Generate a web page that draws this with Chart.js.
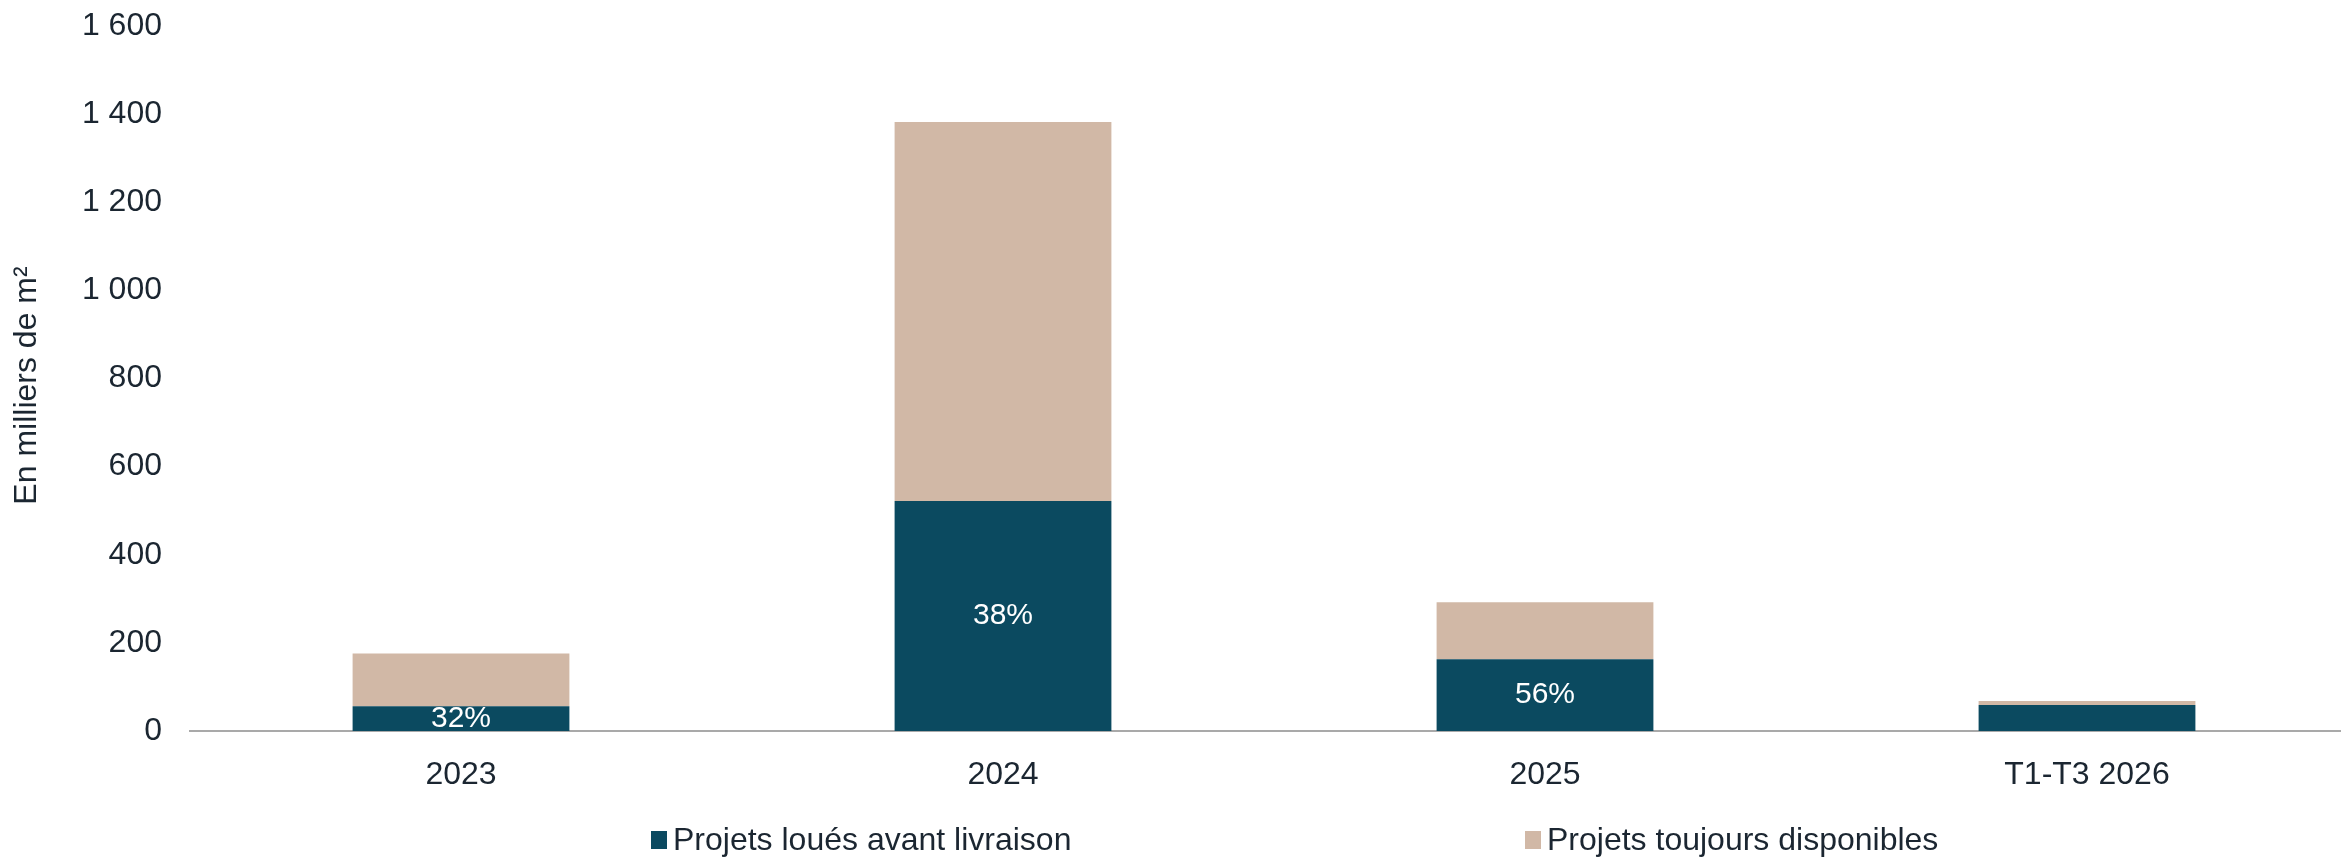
<!DOCTYPE html>
<html lang="fr">
<head>
<meta charset="utf-8">
<title>Livraisons de bureaux</title>
<script src="https://cdn.jsdelivr.net/npm/chart.js@4.4.1/dist/chart.umd.min.js"></script>
<style>
  html, body { margin: 0; padding: 0; background: #ffffff; overflow: hidden; }
  #wrap { position: relative; width: 2341px; height: 857px; overflow: hidden; }
  #chart { position: absolute; left: 0; top: 0; }
  .legend { position: absolute; top: 821px; display: flex; align-items: center;
            font-family: "Liberation Sans", Arial, sans-serif; font-size: 32px; color: #1b2631; }
  .legend i { display: inline-block; width: 16px; height: 18px; margin-right: 6px; }
</style>
</head>
<body>
<div id="wrap">
  <canvas id="chart" width="2358" height="857"></canvas>
  <div class="legend" style="left:651px"><i style="background:#0b4a60"></i><span>Projets loués avant livraison</span></div>
  <div class="legend" style="left:1525px"><i style="background:#d1b8a6"></i><span>Projets toujours disponibles</span></div>
</div>
<script>
// Surfaces livrées, en milliers de m²
const categories = ['2023', '2024', '2025', 'T1-T3 2026'];
const louesAvantLivraison = [56, 522, 163, 59];
const toujoursDisponibles = [120, 860, 129, 9];
const showShare = [true, true, true, false];
const yTicks = [0, 200, 400, 600, 800, 1000, 1200, 1400, 1600];

const FONT = '"Liberation Sans", Arial, sans-serif';
const TEXT = '#1b2631';
const DARK = '#0b4a60';
const SAND = '#d1b8a6';

function fmtFr(v) {
  return String(v).replace(/\B(?=(\d{3})+(?!\d))/g, ' ');
}

// Vertical axis title, drawn rotated and centred a little below the plot middle
const yTitle = {
  id: 'yTitle',
  afterDraw(chart) {
    const ctx = chart.ctx;
    const area = chart.chartArea;
    ctx.save();
    ctx.translate(27, (area.top + area.bottom) / 2 + 7);
    ctx.rotate(-Math.PI / 2);
    ctx.fillStyle = TEXT;
    ctx.font = '32px ' + FONT;
    ctx.textAlign = 'center';
    ctx.textBaseline = 'middle';
    ctx.fillText('En milliers de m²', 0, 0);
    ctx.restore();
  }
};

// Part pré-louée, écrite au centre du segment foncé
const shareLabels = {
  id: 'shareLabels',
  afterDatasetsDraw(chart) {
    const ctx = chart.ctx;
    const meta = chart.getDatasetMeta(0);
    ctx.save();
    ctx.fillStyle = '#ffffff';
    ctx.font = '30px ' + FONT;
    ctx.textAlign = 'center';
    ctx.textBaseline = 'middle';
    meta.data.forEach((bar, i) => {
      if (!showShare[i]) return;
      const a = louesAvantLivraison[i];
      const pct = Math.round(100 * a / (a + toujoursDisponibles[i]));
      const yc = (bar.y + bar.base) / 2;
      ctx.fillText(pct + '%', bar.x, yc);
    });
    ctx.restore();
  }
};

new Chart(document.getElementById('chart'), {
  type: 'bar',
  data: {
    labels: categories,
    datasets: [
      { label: 'Projets loués avant livraison', data: louesAvantLivraison, backgroundColor: DARK,
        categoryPercentage: 1, barPercentage: 0.4 },
      { label: 'Projets toujours disponibles', data: toujoursDisponibles, backgroundColor: SAND,
        categoryPercentage: 1, barPercentage: 0.4 }
    ]
  },
  options: {
    responsive: false,
    animation: false,
    layout: { padding: { top: 26, right: 0, bottom: 0, left: 0 } },
    plugins: { legend: { display: false }, tooltip: { enabled: false } },
    scales: {
      x: {
        stacked: true,
        grid: { display: false, drawTicks: false },
        border: { display: true, color: '#a9a9a9', width: 2 },
        ticks: { color: TEXT, font: { family: FONT, size: 32 }, padding: 25 },
        afterFit(scale) { scale.height = 126; scale.paddingLeft = 0; scale.paddingRight = 0; }
      },
      y: {
        stacked: true,
        min: 0, max: 1600,
        grid: { display: false, drawTicks: false },
        border: { display: false },
        afterBuildTicks(scale) { scale.ticks = yTicks.map(v => ({ value: v })); },
        ticks: { color: TEXT, font: { family: FONT, size: 32 }, padding: 28,
                 callback: v => fmtFr(v) },
        afterFit(scale) { scale.width = 190; scale.paddingTop = 0; scale.paddingBottom = 0; }
      }
    }
  },
  plugins: [shareLabels, yTitle]
});
</script>
</body>
</html>
